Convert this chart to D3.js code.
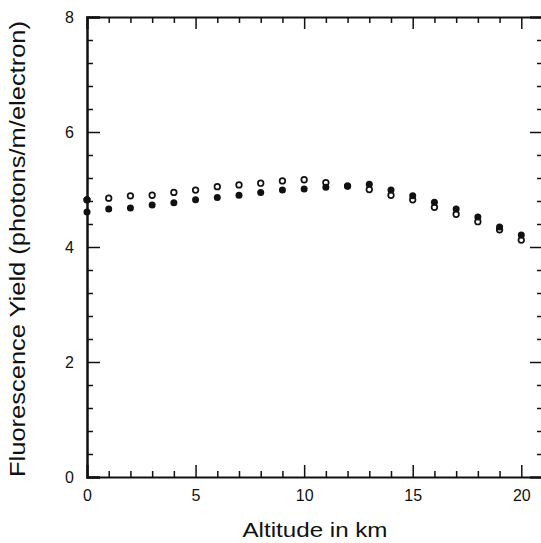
<!DOCTYPE html>
<html>
<head>
<meta charset="utf-8">
<script src="https://cdn.jsdelivr.net/npm/d3@7"></script>
<style>
  body { margin: 0; background: #fff; }
  text { font-family: "Liberation Sans", Arial, sans-serif; fill: #111; }
</style>
</head>
<body>
<svg id="chart" width="541" height="543"></svg>
<script>
// altitude in km
const altitude = [0, 1, 2, 3, 4, 5, 6, 7, 8, 9, 10, 11, 12, 13, 14, 15, 16, 17, 18, 19, 20];
// open circles
const openYield = [4.82, 4.85, 4.89, 4.90, 4.95, 4.99, 5.05, 5.08, 5.11, 5.15, 5.17, 5.12, 5.06, 5.00, 4.90, 4.82, 4.69, 4.57, 4.44, 4.30, 4.12];
// filled circles
const filledYield = [4.61, 4.66, 4.68, 4.73, 4.77, 4.82, 4.86, 4.90, 4.95, 4.99, 5.01, 5.04, 5.06, 5.09, 4.99, 4.89, 4.78, 4.66, 4.52, 4.35, 4.21];
const extraFilled = [{ x: 0, y: 4.82 }];

const xTicks = [0, 5, 10, 15, 20];
const yTicks = [0, 2, 4, 6, 8];

const margin = { top: 17, right: -2, bottom: 66, left: 87 };
const width = 541, height = 543;

const svg = d3.select("#chart");

const x = d3.scaleLinear().domain([0, 21]).range([margin.left, width - margin.right]);
const y = d3.scaleLinear().domain([0, 8]).range([height - margin.bottom, margin.top]);

// minor ticks
const xMinor = d3.range(0, 22, 1).filter(d => d % 5 !== 0);
const yMinor = d3.range(0, 8.01, 0.4).map(d => +d.toFixed(1)).filter(d => d % 2 !== 0);

const tickStyle = g => g.selectAll("line").attr("stroke", "#111").attr("stroke-width", 1.5);

// bottom axis
svg.append("g")
  .attr("transform", `translate(0,${y(0)})`)
  .call(d3.axisBottom(x).tickValues(xTicks).tickSize(-12).tickPadding(13).tickFormat(d3.format("d")))
  .call(g => g.select(".domain").attr("stroke", "#111").attr("stroke-width", 2))
  .call(g => g.selectAll("text").attr("font-size", 16).attr("font-family", "Liberation Sans, Arial, sans-serif"))
  .call(tickStyle);
svg.append("g")
  .attr("transform", `translate(0,${y(0)})`)
  .call(d3.axisBottom(x).tickValues(xMinor).tickSize(-6).tickFormat(""))
  .call(g => g.select(".domain").remove())
  .call(tickStyle);

// top axis
svg.append("g")
  .attr("transform", `translate(0,${y(8)})`)
  .call(d3.axisTop(x).tickValues(xTicks).tickSize(-12).tickFormat(""))
  .call(g => g.select(".domain").attr("stroke", "#111").attr("stroke-width", 2))
  .call(tickStyle);
svg.append("g")
  .attr("transform", `translate(0,${y(8)})`)
  .call(d3.axisTop(x).tickValues(xMinor).tickSize(-6).tickFormat(""))
  .call(g => g.select(".domain").remove())
  .call(tickStyle);

// left axis
svg.append("g")
  .attr("transform", `translate(${x(0)},0)`)
  .call(d3.axisLeft(y).tickValues(yTicks).tickSize(-13).tickPadding(13).tickFormat(d3.format("d")))
  .call(g => g.select(".domain").attr("stroke", "#111").attr("stroke-width", 2.5))
  .call(g => g.selectAll("text").attr("font-size", 16).attr("font-family", "Liberation Sans, Arial, sans-serif"))
  .call(tickStyle);
svg.append("g")
  .attr("transform", `translate(${x(0)},0)`)
  .call(d3.axisLeft(y).tickValues(yMinor).tickSize(-6).tickFormat(""))
  .call(g => g.select(".domain").remove())
  .call(tickStyle);

// right axis
svg.append("g")
  .attr("transform", `translate(${x(21)},0)`)
  .call(d3.axisRight(y).tickValues(yTicks).tickSize(-13).tickFormat(""))
  .call(g => g.select(".domain").attr("stroke", "#111").attr("stroke-width", 2))
  .call(tickStyle);
svg.append("g")
  .attr("transform", `translate(${x(21)},0)`)
  .call(d3.axisRight(y).tickValues(yMinor).tickSize(-6).tickFormat(""))
  .call(g => g.select(".domain").remove())
  .call(tickStyle);

// open circles
svg.append("g")
  .selectAll("circle")
  .data(altitude.map((a, i) => ({ x: a, y: openYield[i] })))
  .join("circle")
  .attr("cx", d => x(d.x))
  .attr("cy", d => y(d.y))
  .attr("r", 2.8)
  .attr("fill", "#fff")
  .attr("stroke", "#111")
  .attr("stroke-width", 1.7);

// filled circles
svg.append("g")
  .selectAll("circle")
  .data(altitude.map((a, i) => ({ x: a, y: filledYield[i] })).concat(extraFilled))
  .join("circle")
  .attr("cx", d => x(d.x))
  .attr("cy", d => y(d.y))
  .attr("r", 3.5)
  .attr("fill", "#111");

// axis titles
svg.append("text")
  .attr("x", 315)
  .attr("y", 537)
  .attr("text-anchor", "middle")
  .attr("font-size", 21)
  .attr("textLength", 145)
  .attr("lengthAdjust", "spacingAndGlyphs")
  .text("Altitude in km");

svg.append("text")
  .attr("transform", `translate(25,249) rotate(-90)`)
  .attr("text-anchor", "middle")
  .attr("font-size", 22)
  .attr("textLength", 456)
  .attr("lengthAdjust", "spacingAndGlyphs")
  .text("Fluorescence Yield (photons/m/electron)");
</script>
</body>
</html>
